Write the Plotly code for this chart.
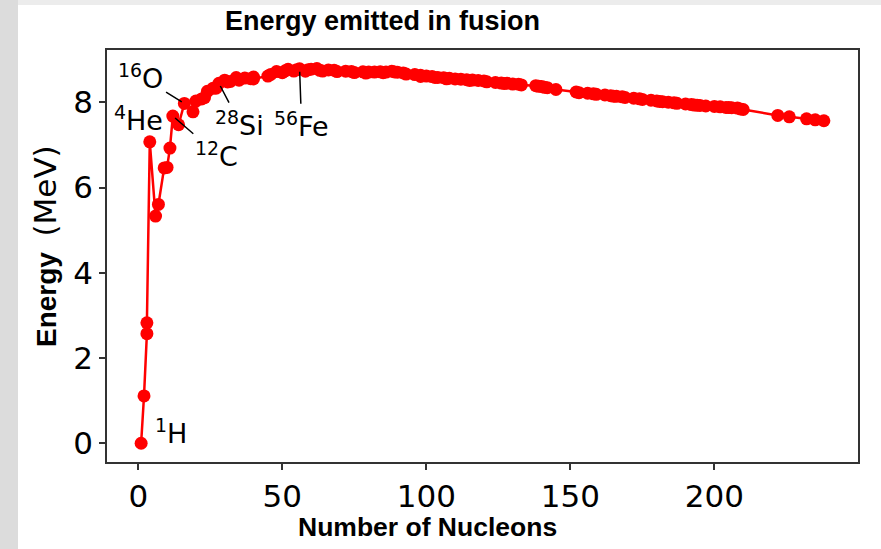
import plotly.graph_objects as go

# ---- data ----
nucleons = [1, 2, 3, 3, 4, 6, 7, 9, 10, 11, 12, 14, 16, 19, 20, 22, 23, 24, 26, 27, 28, 30,
            31, 32, 34, 35, 37, 39, 40, 40,
            45, 46, 48, 50, 51, 52, 54, 55, 56, 58, 59, 60, 62, 63, 64, 66, 68, 69, 72, 74,
            75, 78, 79, 80, 82, 84, 85, 86, 88, 89, 90, 92, 93, 96, 98, 98, 100, 102, 103,
            104, 106, 107, 108, 110, 112, 114, 115, 116, 118, 120, 121, 124, 126, 127, 128,
            130, 132, 133,
            138, 139, 140, 141, 142, 145,
            152, 153, 156, 158, 159, 162, 164, 165, 166, 168, 169, 172, 174, 175, 178, 180,
            181, 182, 184, 186, 187, 190, 192, 193, 194, 195, 197, 200, 202, 204, 205, 206,
            208, 209, 210,
            222, 226, 232, 235, 238]
energy = [0.0, 1.112, 2.573, 2.827, 7.074, 5.332, 5.606, 6.463, 6.475, 6.928, 7.680, 7.476,
          7.976, 7.779, 8.032, 8.081, 8.112, 8.261, 8.334, 8.332, 8.448, 8.521,
          8.481, 8.493, 8.584, 8.520, 8.570, 8.557, 8.595, 8.551,
          8.619, 8.656, 8.723, 8.696, 8.742, 8.776, 8.736, 8.765, 8.790, 8.732, 8.768, 8.781,
          8.795, 8.752, 8.736, 8.760, 8.756, 8.724, 8.732, 8.725,
          8.701, 8.718, 8.688, 8.711, 8.711, 8.717, 8.697, 8.712, 8.733, 8.714, 8.710, 8.693,
          8.664, 8.654, 8.635, 8.610, 8.619, 8.607, 8.584,
          8.587, 8.580, 8.554, 8.567, 8.551, 8.545, 8.532, 8.517, 8.523, 8.517, 8.505, 8.482,
          8.467, 8.453, 8.445, 8.449,
          8.430, 8.428, 8.410,
          8.393, 8.378, 8.376, 8.354, 8.346, 8.303,
          8.244, 8.229, 8.215, 8.202, 8.189, 8.174, 8.159, 8.147, 8.142, 8.130, 8.115, 8.097,
          8.084, 8.069, 8.052, 8.035,
          8.023, 8.018, 8.005, 7.989, 7.978, 7.963, 7.948, 7.938, 7.936, 7.927, 7.916, 7.906,
          7.897, 7.880, 7.878, 7.875,
          7.868, 7.848, 7.834,
          7.695, 7.662, 7.615, 7.591, 7.570]

x_ticks = [0, 50, 100, 150, 200]
y_ticks = [0, 2, 4, 6, 8]

# labelled isotopes: (label, nucleons, energy)
arrow_labels = ["<sup>16</sup>O", "<sup>12</sup>C", "<sup>28</sup>Si", "<sup>56</sup>Fe"]
arrow_A = [16, 12, 28, 56]
arrow_E = [7.976, 7.680, 8.448, 8.790]
plain_labels = ["<sup>4</sup>He", "<sup>1</sup>H"]
plain_A = [0.0, 11.3]
plain_E = [7.63, 0.28]

title_text = "Energy emitted in fusion"
x_title = "Number of Nucleons"

# ---- layout geometry (pixels) ----
W, H = 881, 549
L, R, T, B = 107, 858, 50, 462
pw, ph = R - L, B - T


def px_x(p):
    return (p - L) / pw


def px_y(p):
    return (B - p) / ph


fig = go.Figure()
fig.add_trace(go.Scatter(
    x=nucleons, y=energy, mode="lines+markers",
    line=dict(color="#ff0000", width=2.5),
    marker=dict(color="#ff0000", size=13),
    showlegend=False, hoverinfo="skip",
))

font_ticks = dict(family="DejaVu Sans", size=31, color="#000")

fig.update_xaxes(
    range=[-10.85, 249.85], tickvals=x_ticks, ticktext=[str(v) for v in x_ticks],
    showgrid=False, zeroline=False, showline=True, mirror=True,
    linecolor="#333", linewidth=1.5, ticks="outside", ticklen=6, tickwidth=1.5,
    tickcolor="#333", tickfont=font_ticks, ticklabelstandoff=0,
)
fig.update_yaxes(
    range=[-0.44, 9.23], tickvals=y_ticks, ticktext=[str(v) for v in y_ticks],
    showgrid=False, zeroline=False, showline=True, mirror=True,
    linecolor="#333", linewidth=1.5, ticks="outside", ticklen=6, tickwidth=1.5,
    tickcolor="#333", tickfont=font_ticks,
)

ann_font = dict(family="DejaVu Sans", size=27, color="#000")
offsets = [(-44, -27), (44, 38), (21, 40), (2, 56)]
for lab, a, e, (ax, ay) in zip(arrow_labels, arrow_A, arrow_E, offsets):
    fig.add_annotation(
        x=a, y=e, text=lab, showarrow=True, arrowhead=0, arrowwidth=1.5,
        arrowcolor="#000", ax=ax, ay=ay, standoff=3, startstandoff=2,
        font=ann_font,
    )
for lab, a, e in zip(plain_labels, plain_A, plain_E):
    fig.add_annotation(x=a, y=e, text=lab, showarrow=False, font=ann_font)

# titles
fig.add_annotation(
    xref="paper", yref="paper", x=px_x(382), y=px_y(21), xanchor="center", yanchor="middle",
    text="<b>" + title_text + "</b>",
    showarrow=False, font=dict(family="Liberation Sans, Arial", size=27, color="#000"),
)
fig.add_annotation(
    xref="paper", yref="paper", x=px_x(427), y=px_y(527), xanchor="center", yanchor="middle",
    text="<b>" + x_title + "</b>",
    showarrow=False, font=dict(family="Liberation Sans, Arial", size=26.5, color="#000"),
)
fig.add_annotation(
    xref="paper", yref="paper", x=px_x(45), y=px_y(246), xanchor="center", yanchor="middle",
    textangle=-90,
    text="<b>Energy</b>  <span style='font-family:DejaVu Sans;font-size:31px'>(MeV)</span>",
    showarrow=False, font=dict(family="Liberation Sans, Arial", size=28, color="#000"),
)

# page background: grey frame on left and top
fig.add_shape(type="rect", xref="paper", yref="paper", layer="below",
              x0=px_x(18), x1=px_x(W + 5), y0=px_y(5), y1=px_y(H + 5),
              fillcolor="#ffffff", line=dict(width=0))
fig.add_shape(type="rect", xref="paper", yref="paper", layer="below",
              x0=px_x(18), x1=px_x(W + 5), y0=px_y(-5), y1=px_y(5),
              fillcolor="#ececec", line=dict(width=0))

fig.update_layout(
    width=W, height=H,
    margin=dict(l=L, r=W - R, t=T, b=H - B),
    paper_bgcolor="#dcdcdc", plot_bgcolor="#ffffff",
    hovermode=False,
)

fig.write_html("out.html", config={"displayModeBar": False},
               post_script="document.body.style.margin='0';")
